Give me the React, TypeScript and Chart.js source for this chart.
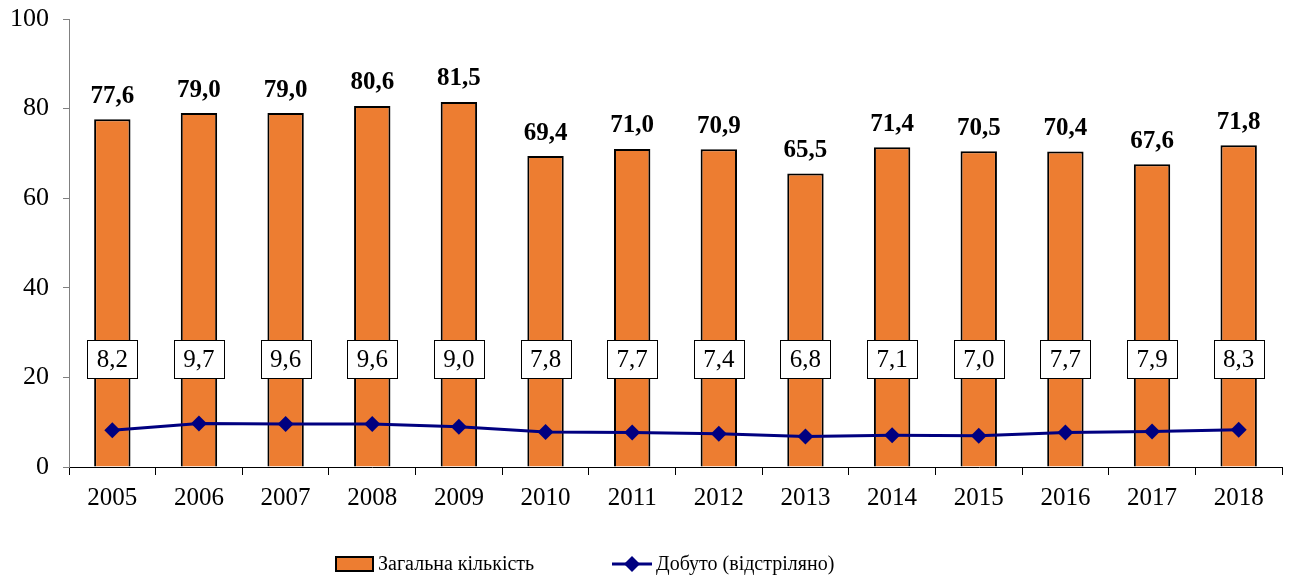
import React, { useEffect, useRef } from "react";
import { Chart, registerables } from "chart.js";

Chart.register(...registerables);

const years = ["2005","2006","2007","2008","2009","2010","2011","2012","2013","2014","2015","2016","2017","2018"];
const totalCount = [77.6, 79.0, 79.0, 80.6, 81.5, 69.4, 71.0, 70.9, 65.5, 71.4, 70.5, 70.4, 67.6, 71.8];
const harvested = [8.2, 9.7, 9.6, 9.6, 9.0, 7.8, 7.7, 7.4, 6.8, 7.1, 7.0, 7.7, 7.9, 8.3];
const yTicks = [0, 20, 40, 60, 80, 100];
const seriesNames = ["Загальна кількість", "Добуто (відстріляно)"];

const FONT = "'Liberation Serif', 'Times New Roman', serif";
const fmt = (v: number) => v.toFixed(1).replace(".", ",");

const labelsPlugin = {
  id: "customLabels",
  afterDatasetsDraw(chart: any) {
    const ctx = chart.ctx;
    const yScale = chart.scales.y;
    ctx.save();
    // bar labels
    const barMeta = chart.getDatasetMeta(0);
    ctx.font = `bold 25px ${FONT}`;
    ctx.fillStyle = "#000";
    ctx.textAlign = "center";
    ctx.textBaseline = "middle";
    barMeta.data.forEach((el: any, i: number) => {
      ctx.fillText(fmt(totalCount[i]), el.x, el.y - 23);
    });
    // line labels (boxed)
    const lineMeta = chart.getDatasetMeta(1);
    ctx.font = `25px ${FONT}`;
    const cy = yScale.getPixelForValue(24);
    lineMeta.data.forEach((el: any, i: number) => {
      const t = fmt(harvested[i]);
      const w = 50, h = 38;
      ctx.fillStyle = "#fff";
      ctx.fillRect(el.x - w / 2, cy - h / 2, w, h);
      ctx.strokeStyle = "#000";
      ctx.lineWidth = 1;
      ctx.strokeRect(Math.round(el.x - w / 2) + 0.5, Math.round(cy - h / 2) + 0.5, w, h);
      ctx.fillStyle = "#000";
      ctx.fillText(t, el.x, cy + 1);
    });
    ctx.restore();
  },
  afterDraw(chart: any) {
    const ctx = chart.ctx;
    ctx.save();
    const ly = 564;
    // bar legend
    ctx.fillStyle = "#ED7D31";
    ctx.fillRect(336, ly - 7, 37, 14);
    ctx.strokeStyle = "#000";
    ctx.lineWidth = 2;
    ctx.strokeRect(336, ly - 7, 37, 14);
    ctx.font = `20px ${FONT}`;
    ctx.fillStyle = "#000";
    ctx.textAlign = "left";
    ctx.textBaseline = "middle";
    ctx.fillText(seriesNames[0], 378, ly + 1);
    // line legend
    ctx.strokeStyle = "#000080";
    ctx.lineWidth = 3;
    ctx.beginPath();
    ctx.moveTo(612, ly);
    ctx.lineTo(652, ly);
    ctx.stroke();
    ctx.fillStyle = "#000080";
    ctx.beginPath();
    ctx.moveTo(632, ly - 8);
    ctx.lineTo(640, ly);
    ctx.lineTo(632, ly + 8);
    ctx.lineTo(624, ly);
    ctx.closePath();
    ctx.fill();
    ctx.fillStyle = "#000";
    ctx.fillText(seriesNames[1], 656, ly + 1);
    ctx.restore();
  },
};

export default function App() {
  const ref = useRef<HTMLCanvasElement>(null);
  useEffect(() => {
    document.body.style.margin = "0";
    const chart = new Chart(ref.current!, {
      type: "bar",
      data: {
        labels: years,
        datasets: [
          {
            type: "bar",
            label: seriesNames[0],
            data: totalCount,
            backgroundColor: "#ED7D31",
            borderColor: "#000",
            borderWidth: 2,
            categoryPercentage: 1,
            barPercentage: 0.42,
            order: 2,
          },
          {
            type: "line",
            label: seriesNames[1],
            data: harvested,
            borderColor: "#000080",
            backgroundColor: "#000080",
            borderWidth: 3,
            pointStyle: "rectRot",
            pointRadius: 8,
            pointBorderWidth: 0,
            tension: 0,
            order: 1,
          } as any,
        ],
      },
      options: {
        animation: false,
        responsive: false,
        maintainAspectRatio: false,
        layout: { padding: { top: 19, right: 7, bottom: 0, left: 0 } },
        plugins: { legend: { display: false }, tooltip: { enabled: false } },
        scales: {
          x: {
            offset: true,
            grid: {
              offset: true,
              drawOnChartArea: false,
              drawTicks: true,
              tickLength: 8,
              color: "#000",
              lineWidth: 1,
            },
            border: { color: "#000", width: 1 },
            ticks: { color: "#000", font: { family: FONT, size: 25 }, padding: 8, maxRotation: 0 },
            afterFit(scale: any) {
              scale.height = 114;
              scale.paddingLeft = 0;
              scale.paddingRight = 0;
            },
          },
          y: {
            min: 0,
            max: 100,
            afterBuildTicks(scale: any) { scale.ticks = yTicks.map((v) => ({ value: v })); },
            grid: {
              drawOnChartArea: false,
              drawTicks: true,
              tickLength: 6,
              color: "#808080",
            },
            border: { color: "#808080", width: 1 },
            ticks: { color: "#000", font: { family: FONT, size: 26 }, padding: 14 },
            afterFit(scale: any) {
              scale.width = 69;
              scale.paddingTop = 0;
              scale.paddingBottom = 0;
            },
          },
        },
      },
      plugins: [labelsPlugin],
    });
    return () => chart.destroy();
  }, []);
  return (
    <div style={{ width: 1290, height: 581 }}>
      <canvas ref={ref} width={1290} height={581} style={{ display: "block" }} />
    </div>
  );
}
